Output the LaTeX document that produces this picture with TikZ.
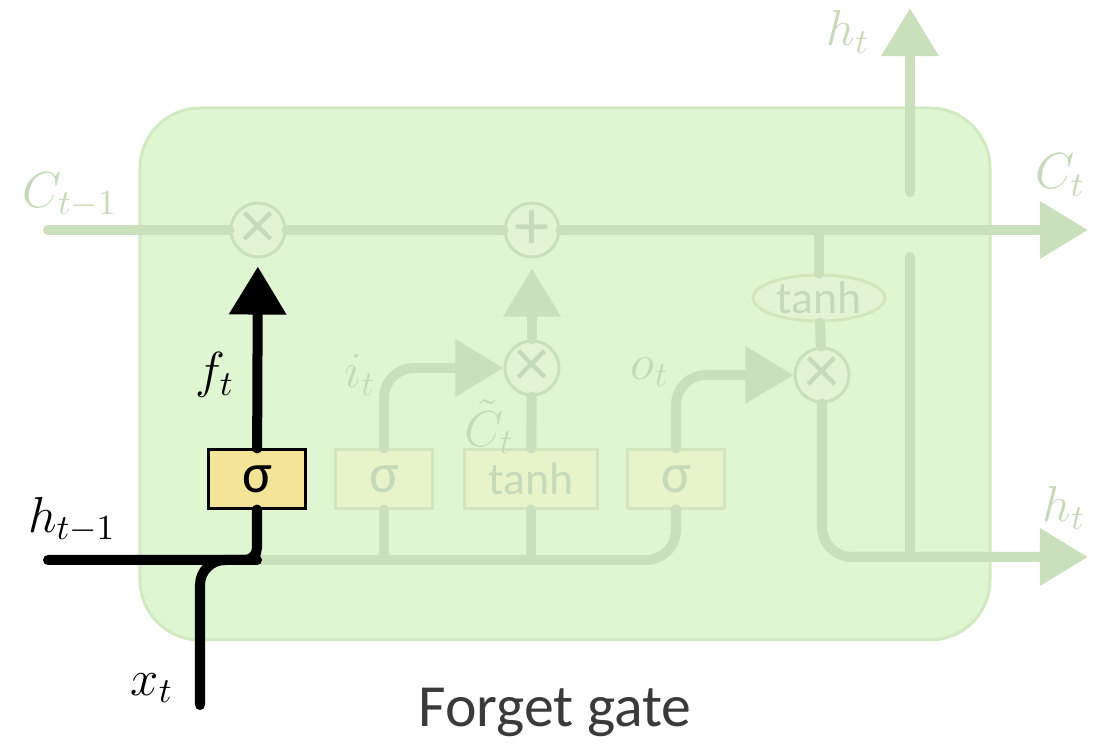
\documentclass[tikz,border=0pt]{standalone}
\usepackage{fontspec}
\setsansfont{Carlito}
\usetikzlibrary{positioning,arrows.meta,calc,shapes.geometric}
\definecolor{CellFill}{HTML}{E0F5D1}
\definecolor{CellEdge}{HTML}{D2EAC2}
\definecolor{Fade}{HTML}{CADFBC}
\definecolor{FadeText}{HTML}{C5DAB8}
\definecolor{FadeBox}{HTML}{E7F3C9}
\definecolor{FadeEdge}{HTML}{D3E5BD}
\definecolor{OpFill}{HTML}{E3F4D5}
\definecolor{Gate}{HTML}{F4E497}
\definecolor{Caption}{HTML}{3A3A3A}

\begin{document}
\begin{tikzpicture}[x=0.01cm, y=-0.01cm, every node/.style={font=\fontsize{14}{16}\selectfont}]
  \tikzstyle{faded}=[draw=Fade, line width=0.1cm, line cap=round]
  \tikzstyle{live}=[draw=black, line width=0.1cm, line cap=round]
  \tikzstyle{tip}=[-{Triangle[length=0.48cm, width=0.55cm]}]
  \tikzstyle{gatebox}=[draw=FadeEdge, line width=0.03cm, fill=FadeBox, minimum height=0.58cm, inner sep=0pt, text=FadeText, font=\sffamily\fontsize{16}{18}\selectfont]
  \tikzstyle{op}=[circle, draw=Fade, fill=OpFill, line width=0.03cm, minimum size=0.54cm, inner sep=0pt, text=FadeText, font=\sffamily\fontsize{20}{22}\selectfont]
  \tikzstyle{faint}=[text=FadeText]

  \useasboundingbox (0,0) rectangle (1102,749);
  \fill[CellFill, draw=CellEdge, line width=0.03cm, rounded corners=0.6cm] (140,108) rectangle (990,640);

  % gates and pointwise ops
  \node[gatebox, fill=Gate, draw=black, text=black, minimum width=0.96cm] (fsig) at (257,479) {σ};
  \node[gatebox, minimum width=0.96cm] (isig) at (384,479) {σ};
  \node[gatebox, minimum width=1.32cm, font=\sffamily\fontsize{13}{15}\selectfont] (tbox) at (531,479) {tanh};
  \node[gatebox, minimum width=0.96cm] (osig) at (676,479) {σ};
  \node[op] (fx) at (258,230) {×};
  \node[op] (ip) at (532,230) {+};
  \node[op] (ix) at (532,368) {×};
  \node[op] (ox) at (822,375) {×};
  \node[ellipse, draw=FadeEdge, fill=OpFill, line width=0.03cm, minimum width=1.32cm, minimum height=0.46cm, inner sep=0pt, text=FadeText, font=\sffamily\fontsize{13}{15}\selectfont] (ct) at (819,298) {tanh};

  \coordinate (cin) at (48,230);
  \coordinate (cout) at (1088,230);
  \coordinate (hin) at (48,560);
  \coordinate (xin) at (200,705);
  \coordinate (hout) at (1088,557);
  \coordinate (hsplit) at (910,557);
  \coordinate (bridgelo) at (910,257);
  \coordinate (bridgehi) at (910,192);
  \coordinate (htop) at (910,8);

  % faded flow
  \draw[faded, tip] (cin) -- (fx) -- (ip) -- (cout);
  \draw[faded] (ct |- cin) -- (ct);
  \draw[faded] (ct) -- (ox);
  \draw[faded, tip, rounded corners=0.3cm] (ox) |- (hout);
  \draw[faded] (hsplit) -- (bridgelo);
  \draw[faded, tip] (bridgehi) -- (htop);
  \draw[faded, rounded corners=0.3cm] (fsig.south |- hin) -| (osig.south);
  \draw[faded] (isig.south |- hin) -- (isig.south);
  \draw[faded] (tbox.south |- hin) -- (tbox.south);
  \draw[faded, tip, rounded corners=0.3cm] (isig.north) |- (ix.west);
  \draw[faded, tip, rounded corners=0.3cm] (osig.north) |- (ox.west);
  \draw[faded] (tbox) -- (ix);
  \draw[faded, tip, shorten >=0.1cm] (ix) -- (ip);

  % forget path
  \draw[live, rounded corners=0.12cm] (hin) -| (fsig.south);
  \draw[live, rounded corners=0.25cm] (xin) |- (fsig.south |- hin);
  \draw[live, tip, shorten >=0.08cm] (fsig) -- (fx);

  % labels
  \node[faint] (lcprev) at (70,195) {$C_{t-1}$};
  \node (lf) at (215,375) {$f_t$};
  \node (lhprev) at (72,520) {$h_{t-1}$};
  \node (lx) at (152,688) {$x_t$};
  \node[faint] (li) at (360,375) {$i_t$};
  \node[faint] (lct) at (489,427) {$\tilde{C}_t$};
  \node[faint] (lo) at (650,372) {$o_t$};
  \node[faint] (lhtop) at (848,32) {$h_t$};
  \node[faint] (lc) at (1060,175) {$C_t$};
  \node[faint] (lh) at (1064,508) {$h_t$};
  \node[text=Caption, font=\sffamily\fontsize{17}{19}\selectfont] (caption) at (555,712) {Forget gate};
\end{tikzpicture}
\end{document}
